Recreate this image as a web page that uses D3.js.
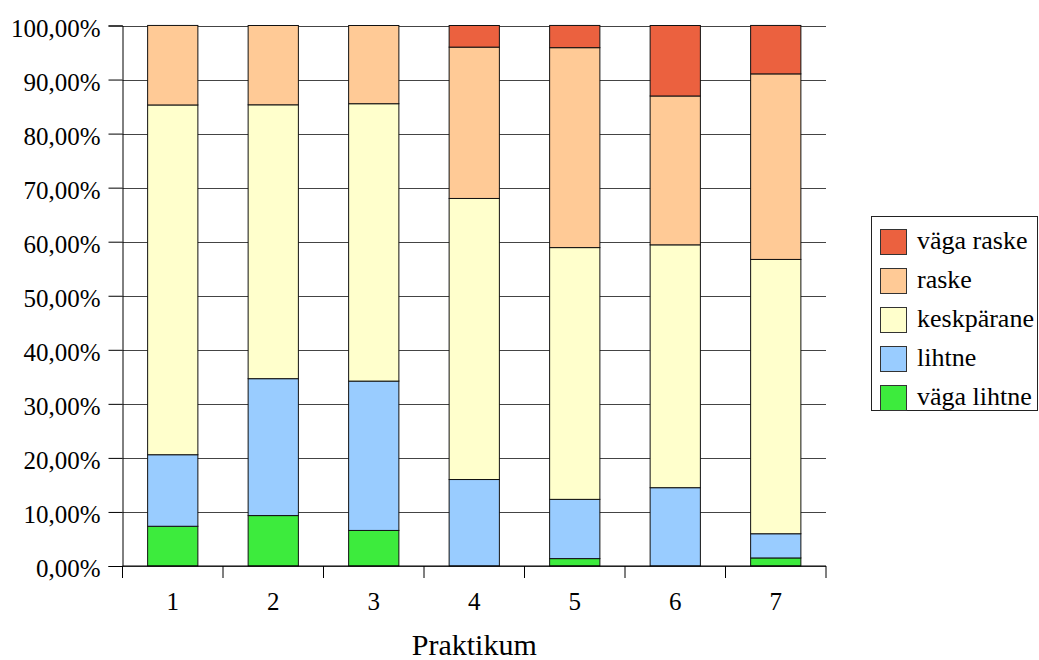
<!DOCTYPE html>
<html>
<head>
<meta charset="utf-8">
<script src="https://cdn.jsdelivr.net/npm/d3@7"></script>
<style>
  html, body { margin: 0; padding: 0; background: #fff; }
  svg { display: block; }
  svg text { font-family: "Liberation Serif", "Times New Roman", serif !important; }
</style>
</head>
<body>
<svg id="chart" width="1039" height="660"></svg>
<script>
// Praktikum categories
const categories = ["1", "2", "3", "4", "5", "6", "7"];

// Share of answers per difficulty level (percent), bottom to top
const vagaLihtne  = [7.35, 9.33, 6.58, 0.00, 1.37, 0.00, 1.49];
const lihtne      = [13.24, 25.33, 27.63, 16.00, 10.96, 14.49, 4.48];
const keskparane  = [64.71, 50.67, 51.32, 52.00, 46.58, 44.93, 50.75];
const raske       = [14.71, 14.67, 14.47, 28.00, 36.99, 27.54, 34.33];
const vagaRaske   = [0.00, 0.00, 0.00, 4.00, 4.11, 13.04, 8.96];

const seriesNames = ["väga lihtne", "lihtne", "keskpärane", "raske", "väga raske"];
const seriesValues = [vagaLihtne, lihtne, keskparane, raske, vagaRaske];
const seriesColors = ["#3deb3d", "#99ccff", "#ffffcc", "#ffca96", "#eb613f"];

const yTicks = [0, 10, 20, 30, 40, 50, 60, 70, 80, 90, 100];
const xTitle = "Praktikum";

const serif = "'Liberation Serif', 'Times New Roman', serif";
const svg = d3.select("#chart");
const margin = { left: 122.5, right: 826, top: 25.5, bottom: 566 };

const x = d3.scaleBand()
  .domain(categories)
  .range([margin.left, margin.right])
  .paddingInner(0.5)
  .paddingOuter(0.25);

const y = d3.scaleLinear().domain([0, 100]).range([margin.bottom, margin.top]);

// Rows for the stack layout
const rows = categories.map((c, i) => {
  const r = { cat: c };
  seriesNames.forEach((n, s) => { r[n] = seriesValues[s][i]; });
  return r;
});
const stacked = d3.stack().keys(seriesNames)(rows);

// Horizontal gridlines
svg.append("g")
  .selectAll("line")
  .data(yTicks)
  .join("line")
  .attr("x1", margin.left)
  .attr("x2", margin.right)
  .attr("y1", d => Math.round(y(d)) + 0.5)
  .attr("y2", d => Math.round(y(d)) + 0.5)
  .attr("stroke", "#444")
  .attr("stroke-width", 1);

// Stacked bars
svg.append("g")
  .selectAll("g")
  .data(stacked)
  .join("g")
  .attr("fill", (d, i) => seriesColors[i])
  .selectAll("rect")
  .data(d => d.filter(p => p[1] - p[0] > 0))
  .join("rect")
  .attr("x", d => x(d.data.cat))
  .attr("width", x.bandwidth())
  .attr("y", d => y(d[1]))
  .attr("height", d => y(d[0]) - y(d[1]))
  .attr("stroke", "#111")
  .attr("stroke-width", 1);

// Y axis
const yAxis = d3.axisLeft(y)
  .tickValues(yTicks)
  .tickSize(14)
  .tickPadding(8)
  .tickFormat(d => d3.format(".2f")(d).replace(".", ",") + "%");

svg.append("g")
  .attr("transform", `translate(${margin.left},0)`)
  .call(yAxis)
  .attr("font-family", serif)
  .attr("font-size", 25)
  .call(g => g.select(".domain").attr("stroke", "#000"))
  .call(g => g.selectAll(".tick line").attr("stroke", "#000"))
  .call(g => g.selectAll("text")
    .style("font-family", serif)
    .attr("font-size", 25)
    .attr("dy", "0.42em")
    .attr("fill", "#000"));

// X axis: ticks on category boundaries
const bounds = categories.map(c => x(c) - x.step() * x.paddingInner() / 2);
bounds.push(margin.right);

svg.append("line")
  .attr("x1", margin.left).attr("x2", margin.right)
  .attr("y1", y(0)).attr("y2", y(0))
  .attr("stroke", "#000");

svg.append("g")
  .selectAll("line")
  .data(bounds)
  .join("line")
  .attr("x1", d => d).attr("x2", d => d)
  .attr("y1", y(0)).attr("y2", y(0) + 12)
  .attr("stroke", "#000");

svg.append("g")
  .selectAll("text")
  .data(categories)
  .join("text")
  .attr("x", d => x(d) + x.bandwidth() / 2)
  .attr("y", 610)
  .attr("text-anchor", "middle")
  .style("font-family", serif)
  .attr("font-size", 25)
  .attr("fill", "#000")
  .text(d => d);

// X axis title
svg.append("text")
  .attr("x", (margin.left + margin.right) / 2)
  .attr("y", 655)
  .attr("text-anchor", "middle")
  .style("font-family", serif)
  .attr("font-size", 30)
  .attr("fill", "#000")
  .text(xTitle);

// Legend (top entry is the top of the stack)
const legend = svg.append("g");
legend.append("rect")
  .attr("x", 871.5).attr("y", 216.5)
  .attr("width", 166).attr("height", 194)
  .attr("fill", "#fff")
  .attr("stroke", "#222");

const legendItems = seriesNames.map((n, i) => ({ name: n, color: seriesColors[i] })).reverse();
const li = legend.selectAll("g.item")
  .data(legendItems)
  .join("g")
  .attr("class", "item")
  .attr("transform", (d, i) => `translate(880,${229 + i * 39})`);

li.append("rect")
  .attr("x", 0.5).attr("y", 0.5)
  .attr("width", 26).attr("height", 25)
  .attr("fill", d => d.color)
  .attr("stroke", "#333");

li.append("text")
  .attr("x", 37)
  .attr("y", 20)
  .style("font-family", serif)
  .attr("font-size", 26)
  .attr("fill", "#000")
  .text(d => d.name);
</script>
</body>
</html>
